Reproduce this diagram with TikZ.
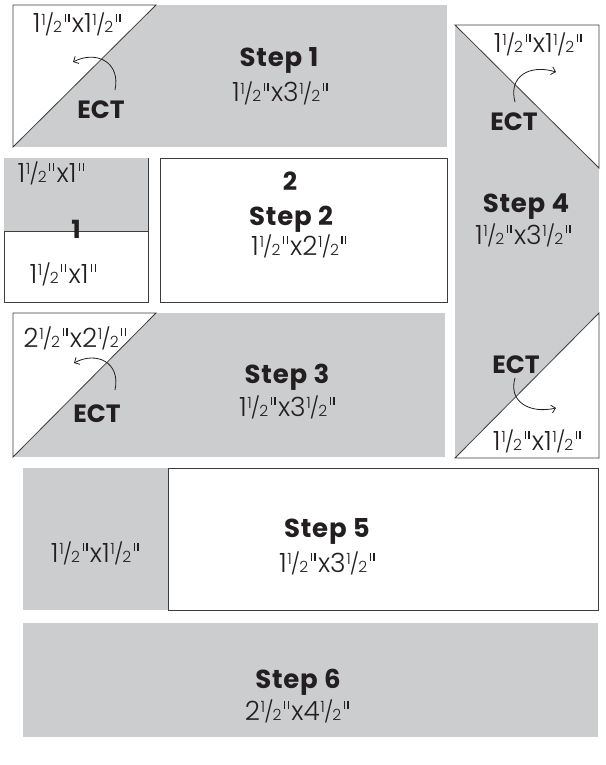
\documentclass[tikz,border=0pt]{standalone}
\usepackage{fontspec}
\setmainfont{Poppins}
\IfFontExistsTF{Poppins Light}{\newfontfamily\dimfont{Poppins Light}}{\newfontfamily\dimfont{Poppins}}
\usetikzlibrary{arrows.meta}
\definecolor{quiltgray}{RGB}{204,205,207}
\definecolor{inkcol}{RGB}{35,31,32}
\definecolor{edgecol}{RGB}{60,60,60}
\newcommand{\hf}{\kern0.6pt\raisebox{7.2pt}{\fontsize{15.5}{15.5}\selectfont 1}\kern-0.9pt\raisebox{0.6pt}{\fontsize{21}{21}\selectfont /}\kern-0.9pt{\fontsize{15.5}{15.5}\selectfont 2}}
\newcommand{\inch}{\kern2.4pt\rule[11.2pt]{1.2pt}{7.6pt}\kern2.6pt\rule[11.2pt]{1.2pt}{7.6pt}\kern2.4pt}
\begin{document}
\begin{tikzpicture}[x=1pt,y=-1pt,
  patch/.style={fill=quiltgray},
  seam/.style={draw=edgecol, line width=0.8pt},
  steplbl/.style={font=\fontsize{26}{28}\selectfont\bfseries\addfontfeatures{LetterSpace=3}, text=inkcol, inner sep=0, anchor=base},
  ectlbl/.style={font=\fontsize{25}{27}\selectfont\bfseries, text=inkcol, inner sep=0, anchor=base},
  dimlbl/.style={font=\dimfont\fontsize{26.5}{28}\selectfont, text=inkcol, inner sep=0, anchor=base},
  turn/.style={draw=inkcol, line width=0.8pt, -{Straight Barb[length=4pt,width=8pt]}}]
\useasboundingbox (0,0) rectangle (605,765);
% Step 1
\fill[patch] (13,5) rectangle (447,147);
\fill[white] (13,5) -- (156,5) -- (13,147) -- cycle;
\draw[seam] (13,147) -- (13,5) -- (156,5) -- cycle;
\node[dimlbl] (s1sq) at (78,33) {1\hf\inch x1\hf\inch};
\node[ectlbl] (s1ect) at (101,118) {ECT};
\node[steplbl] (s1t) at (279,67) {Step 1};
\node[dimlbl] (s1d) at (281,102) {1\hf\inch x3\hf\inch};
\coordinate (a1s) at (115,90);
\coordinate (a1e) at (73,62);
\draw[turn] (a1s) .. controls (121,62) and (96,50) .. (a1e);
% Step 2
\fill[patch] (4,158) rectangle (148,231);
\draw[seam] (4,231) rectangle (148,302);
\draw[seam] (148,158) -- (148,231);
\draw[seam] (160,158) rectangle (447,302);
\node[dimlbl] (s2a) at (52,182) {1\hf\inch x1\inch};
\node[dimlbl] (s2b) at (64,283) {1\hf\inch x1\inch};
\node[ectlbl] (s2one) at (76,238) {1};
\node[ectlbl] (s2two) at (290,190) {2};
\node[steplbl] (s2t) at (291,225) {Step 2};
\node[dimlbl] (s2d) at (300,255) {1\hf\inch x2\hf\inch};
% Step 3
\fill[patch] (13,313) rectangle (445,457);
\fill[white] (13,313) -- (156,313) -- (13,457) -- cycle;
\draw[seam] (13,457) -- (13,313) -- (156,313) -- cycle;
\node[dimlbl] (s3sq) at (76,347) {2\hf\inch x2\hf\inch};
\node[ectlbl] (s3ect) at (97,422) {ECT};
\node[steplbl] (s3t) at (287,383) {Step 3};
\node[dimlbl] (s3d) at (288,416) {1\hf\inch x3\hf\inch};
\coordinate (a3s) at (115,390);
\coordinate (a3e) at (74,363);
\draw[turn] (a3s) .. controls (121,362) and (96,351) .. (a3e);
% Step 4
\fill[patch] (455,25) rectangle (599,458);
\fill[white] (455,25) -- (599,25) -- (599,168) -- cycle;
\draw[seam] (455,25) -- (599,25) -- (599,168) -- cycle;
\fill[white] (599,313) -- (599,458) -- (455,458) -- cycle;
\draw[seam] (599,313) -- (599,458) -- (455,458) -- cycle;
\node[dimlbl] (s4top) at (539,53) {1\hf\inch x1\hf\inch};
\node[ectlbl] (s4ecta) at (514,130) {ECT};
\node[steplbl] (s4t) at (526,212) {Step 4};
\node[dimlbl] (s4d) at (524,244) {1\hf\inch x3\hf\inch};
\node[ectlbl] (s4ectb) at (516,373) {ECT};
\node[dimlbl] (s4bot) at (538,450) {1\hf\inch x1\hf\inch};
\coordinate (a4s) at (515,102);
\coordinate (a4e) at (556,72);
\draw[turn] (a4s) .. controls (508,76) and (530,64) .. (a4e);
\coordinate (a5s) at (515,378);
\coordinate (a5e) at (556,408);
\draw[turn] (a5s) .. controls (508,402) and (530,414) .. (a5e);
% Step 5
\fill[patch] (23,468) rectangle (168,610);
\draw[seam] (168,468) rectangle (598,610);
\node[dimlbl] (s5sq) at (96,562) {1\hf\inch x1\hf\inch};
\node[steplbl] (s5t) at (327,537) {Step 5};
\node[dimlbl] (s5d) at (328,572) {1\hf\inch x3\hf\inch};
% Step 6
\fill[patch] (23,623) rectangle (598,737);
\node[steplbl] (s6t) at (298,688) {Step 6};
\node[dimlbl] (s6d) at (298,720) {2\hf\inch x4\hf\inch};
\end{tikzpicture}
\end{document}
